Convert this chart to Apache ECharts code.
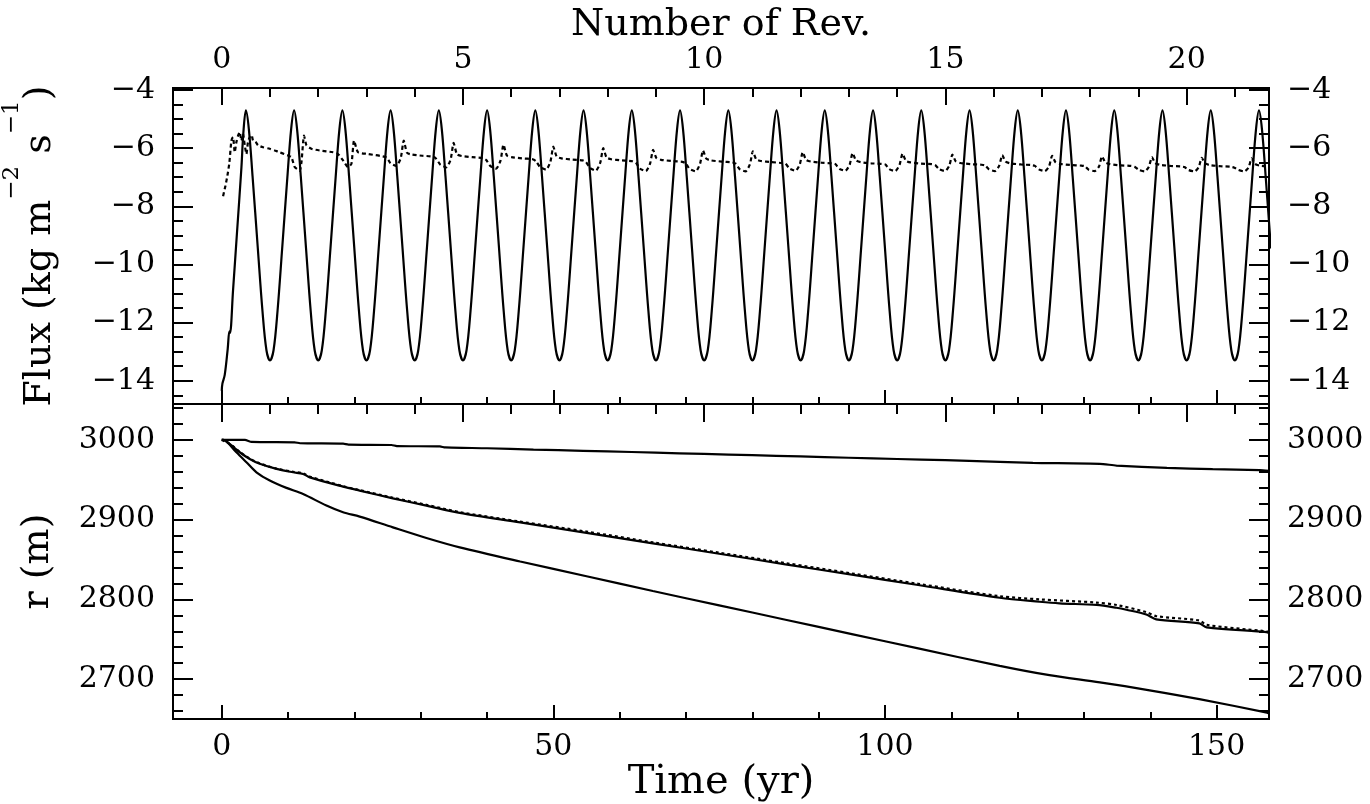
<!DOCTYPE html>
<html><head><meta charset="utf-8">
<script src="https://cdn.jsdelivr.net/npm/echarts@6/dist/echarts.min.js"></script>
<style>html,body{margin:0;padding:0;background:#fff}#c{width:1370px;height:804px}</style>
</head><body><div id="c"></div>
<script>
// ---------- tick values ----------
const timeMajor = [0, 50, 100, 150];
const timeMinor = [10, 20, 30, 40, 60, 70, 80, 90, 110, 120, 130, 140];
const revMajor = [0, 5, 10, 15, 20];
const revMinor = [1, 2, 3, 4, 6, 7, 8, 9, 11, 12, 13, 14, 16, 17, 18, 19, 21];
const fluxMajor = [-14, -12, -10, -8, -6, -4];
const fluxMinor = [-14.5, -13.5, -13, -12.5, -11.5, -11, -10.5, -9.5, -9, -8.5, -7.5, -7, -6.5, -5.5, -5, -4.5];
const rMajor = [2700, 2800, 2900, 3000];
const rMinor = [2660, 2680, 2720, 2740, 2760, 2780, 2820, 2840, 2860, 2880, 2920, 2940, 2960, 2980, 3020, 3040];

// ---------- data: [time (yr), value] ----------
const fluxSolid = [
 [0,-14.35],[0.1,-14.1],[0.45,-13.8],[0.9,-12.9],[1.15,-12.3],[1.25,-12.35],[1.7,-10.9],[2.3,-8.9],[2.97,-6.65],[3.25,-5.5],[3.64,-4.7],
 [4.09,-5.35],[4.64,-6.95],[5.44,-9.45],[6.14,-11.6],[6.74,-12.95],[7.27,-13.3],
 [7.81,-12.95],[8.41,-11.6],[9.11,-9.45],[9.91,-6.95],[10.46,-5.35],[10.91,-4.7],[11.36,-5.35],[11.91,-6.95],[12.71,-9.45],[13.41,-11.6],[14.01,-12.95],[14.55,-13.3],
 [15.09,-12.95],[15.69,-11.6],[16.39,-9.45],[17.19,-6.95],[17.74,-5.35],[18.19,-4.7],[18.64,-5.35],[19.19,-6.95],[19.99,-9.45],[20.69,-11.6],[21.29,-12.95],[21.82,-13.3],
 [22.36,-12.95],[22.96,-11.6],[23.66,-9.45],[24.46,-6.95],[25.01,-5.35],[25.46,-4.7],[25.91,-5.35],[26.46,-6.95],[27.26,-9.45],[27.96,-11.6],[28.56,-12.95],[29.10,-13.3],
 [29.63,-12.95],[30.23,-11.6],[30.93,-9.45],[31.73,-6.95],[32.28,-5.35],[32.73,-4.7],[33.18,-5.35],[33.73,-6.95],[34.53,-9.45],[35.23,-11.6],[35.83,-12.95],[36.37,-13.3],
 [36.91,-12.95],[37.51,-11.6],[38.21,-9.45],[39.01,-6.95],[39.56,-5.35],[40.01,-4.7],[40.46,-5.35],[41.01,-6.95],[41.81,-9.45],[42.51,-11.6],[43.11,-12.95],[43.64,-13.3],
 [44.18,-12.95],[44.78,-11.6],[45.48,-9.45],[46.28,-6.95],[46.83,-5.35],[47.28,-4.7],[47.73,-5.35],[48.28,-6.95],[49.08,-9.45],[49.78,-11.6],[50.38,-12.95],[50.92,-13.3],
 [51.45,-12.95],[52.05,-11.6],[52.75,-9.45],[53.55,-6.95],[54.10,-5.35],[54.55,-4.7],[55.00,-5.35],[55.55,-6.95],[56.35,-9.45],[57.05,-11.6],[57.65,-12.95],[58.19,-13.3],
 [58.73,-12.95],[59.33,-11.6],[60.03,-9.45],[60.83,-6.95],[61.38,-5.35],[61.83,-4.7],[62.28,-5.35],[62.83,-6.95],[63.63,-9.45],[64.33,-11.6],[64.93,-12.95],[65.47,-13.3],
 [66.00,-12.95],[66.60,-11.6],[67.30,-9.45],[68.10,-6.95],[68.65,-5.35],[69.10,-4.7],[69.55,-5.35],[70.10,-6.95],[70.90,-9.45],[71.60,-11.6],[72.20,-12.95],[72.74,-13.3],
 [73.28,-12.95],[73.88,-11.6],[74.58,-9.45],[75.38,-6.95],[75.93,-5.35],[76.38,-4.7],[76.83,-5.35],[77.38,-6.95],[78.18,-9.45],[78.88,-11.6],[79.48,-12.95],[80.01,-13.3],
 [80.55,-12.95],[81.15,-11.6],[81.85,-9.45],[82.65,-6.95],[83.20,-5.35],[83.65,-4.7],[84.10,-5.35],[84.65,-6.95],[85.45,-9.45],[86.15,-11.6],[86.75,-12.95],[87.29,-13.3],
 [87.82,-12.95],[88.42,-11.6],[89.12,-9.45],[89.92,-6.95],[90.47,-5.35],[90.92,-4.7],[91.37,-5.35],[91.92,-6.95],[92.72,-9.45],[93.42,-11.6],[94.02,-12.95],[94.56,-13.3],
 [95.10,-12.95],[95.70,-11.6],[96.40,-9.45],[97.20,-6.95],[97.75,-5.35],[98.20,-4.7],[98.65,-5.35],[99.20,-6.95],[100.00,-9.45],[100.70,-11.6],[101.30,-12.95],[101.84,-13.3],
 [102.37,-12.95],[102.97,-11.6],[103.67,-9.45],[104.47,-6.95],[105.02,-5.35],[105.47,-4.7],[105.92,-5.35],[106.47,-6.95],[107.27,-9.45],[107.97,-11.6],[108.57,-12.95],[109.11,-13.3],
 [109.65,-12.95],[110.25,-11.6],[110.95,-9.45],[111.75,-6.95],[112.30,-5.35],[112.75,-4.7],[113.20,-5.35],[113.75,-6.95],[114.55,-9.45],[115.25,-11.6],[115.85,-12.95],[116.38,-13.3],
 [116.92,-12.95],[117.52,-11.6],[118.22,-9.45],[119.02,-6.95],[119.57,-5.35],[120.02,-4.7],[120.47,-5.35],[121.02,-6.95],[121.82,-9.45],[122.52,-11.6],[123.12,-12.95],[123.66,-13.3],
 [124.19,-12.95],[124.79,-11.6],[125.49,-9.45],[126.29,-6.95],[126.84,-5.35],[127.29,-4.7],[127.74,-5.35],[128.29,-6.95],[129.09,-9.45],[129.79,-11.6],[130.39,-12.95],[130.93,-13.3],
 [131.47,-12.95],[132.07,-11.6],[132.77,-9.45],[133.57,-6.95],[134.12,-5.35],[134.57,-4.7],[135.02,-5.35],[135.57,-6.95],[136.37,-9.45],[137.07,-11.6],[137.67,-12.95],[138.21,-13.3],
 [138.74,-12.95],[139.34,-11.6],[140.04,-9.45],[140.84,-6.95],[141.39,-5.35],[141.84,-4.7],[142.29,-5.35],[142.84,-6.95],[143.64,-9.45],[144.34,-11.6],[144.94,-12.95],[145.48,-13.3],
 [146.02,-12.95],[146.62,-11.6],[147.32,-9.45],[148.12,-6.95],[148.67,-5.35],[149.12,-4.7],[149.57,-5.35],[150.12,-6.95],[150.92,-9.45],[151.62,-11.6],[152.22,-12.95],[152.75,-13.3],
 [153.29,-12.95],[153.89,-11.6],[154.59,-9.45],[155.39,-6.95],[155.94,-5.35],[156.39,-4.7],[156.84,-5.35],[157.39,-6.95],[158.19,-9.45]
];
const fluxDotted = [
 [0.2,-7.65],[0.55,-7.3],[0.85,-6.95],[1.15,-6.5],[1.45,-5.75],[1.7,-5.62],[1.96,-6.14],[2.2,-5.8],[2.46,-5.57],[2.7,-5.45],[2.97,-5.74],[3.2,-5.5],[3.47,-5.9],[3.72,-6.2],[3.95,-5.8],[4.22,-5.62],[4.5,-5.55],[4.72,-5.74],[5.1,-5.78],[5.47,-5.9],[6.23,-5.97],[7.24,-6.02],[8.0,-6.08],[8.74,-6.14],[9.4,-6.2],[10.0,-6.25],[10.5,-6.31],[11.0,-6.65],[11.4,-6.72],[11.76,-6.77],[12.02,-6.48],
 [12.41,-5.57],[12.77,-5.9],[13.52,-6.02],[14.77,-6.08],[16.78,-6.14],[17.53,-6.2],[18.29,-6.42],[19.04,-6.65],[19.55,-6.54],
 [19.95,-5.74],[20.55,-6.14],[22.06,-6.2],
 [24.84,-6.32],[25.44,-6.52],[26.34,-6.61],[26.99,-6.34],[27.44,-5.74],[27.94,-6.16],[28.64,-6.22],[30.24,-6.26],[31.84,-6.29],
 [32.36,-6.37],[32.96,-6.57],[33.86,-6.66],[34.51,-6.39],[34.96,-5.82],[35.46,-6.21],[36.16,-6.27],[37.76,-6.31],[39.36,-6.34],
 [39.88,-6.41],[40.48,-6.61],[41.38,-6.70],[42.03,-6.43],[42.48,-5.88],[42.98,-6.25],[43.68,-6.31],[45.28,-6.35],[46.88,-6.38],
 [47.40,-6.45],[48.00,-6.65],[48.90,-6.74],[49.55,-6.47],[50.00,-5.95],[50.50,-6.29],[51.20,-6.35],[52.80,-6.39],[54.40,-6.42],
 [54.92,-6.48],[55.52,-6.68],[56.42,-6.77],[57.07,-6.50],[57.52,-6.00],[58.02,-6.32],[58.72,-6.38],[60.32,-6.42],[61.92,-6.45],
 [62.44,-6.50],[63.04,-6.70],[63.94,-6.79],[64.59,-6.52],[65.04,-6.06],[65.54,-6.34],[66.24,-6.40],[67.84,-6.44],[69.44,-6.47],
 [69.96,-6.52],[70.56,-6.72],[71.46,-6.80],[72.11,-6.54],[72.56,-6.08],[73.06,-6.36],[73.76,-6.42],[75.36,-6.46],[76.96,-6.49],
 [77.48,-6.53],[78.08,-6.72],[78.98,-6.80],[79.63,-6.56],[80.08,-6.11],[80.58,-6.38],[81.28,-6.44],[82.88,-6.48],[84.48,-6.51],
 [85.00,-6.53],[85.60,-6.70],[86.50,-6.78],[87.15,-6.56],[87.60,-6.14],[88.10,-6.40],[88.80,-6.46],[90.40,-6.50],[92.00,-6.52],
 [92.52,-6.55],[93.12,-6.71],[94.02,-6.78],[94.67,-6.57],[95.12,-6.17],[95.62,-6.42],[96.32,-6.48],[97.92,-6.52],[99.52,-6.54],
 [100.04,-6.56],[100.64,-6.72],[101.54,-6.79],[102.19,-6.58],[102.64,-6.19],[103.14,-6.43],[103.84,-6.49],[105.44,-6.53],[107.04,-6.55],
 [107.56,-6.58],[108.16,-6.72],[109.06,-6.79],[109.71,-6.59],[110.16,-6.22],[110.66,-6.45],[111.36,-6.51],[112.96,-6.55],[114.56,-6.57],
 [115.08,-6.59],[115.68,-6.73],[116.58,-6.79],[117.23,-6.60],[117.68,-6.24],[118.18,-6.46],[118.88,-6.52],[120.48,-6.56],[122.08,-6.58],
 [122.60,-6.61],[123.20,-6.73],[124.10,-6.79],[124.75,-6.62],[125.20,-6.26],[125.70,-6.48],[126.40,-6.54],[128.00,-6.58],[129.60,-6.60],
 [130.12,-6.62],[130.72,-6.74],[131.62,-6.79],[132.27,-6.63],[132.72,-6.28],[133.22,-6.49],[133.92,-6.55],[135.52,-6.59],[137.12,-6.61],
 [137.64,-6.64],[138.24,-6.74],[139.14,-6.80],[139.79,-6.64],[140.24,-6.31],[140.74,-6.51],[141.44,-6.57],[143.04,-6.61],[144.64,-6.63],
 [145.16,-6.65],[145.76,-6.75],[146.66,-6.80],[147.31,-6.65],[147.76,-6.33],[148.26,-6.52],[148.96,-6.58],[150.56,-6.62],[152.16,-6.64],
 [152.68,-6.67],[153.28,-6.75],[154.18,-6.80],[154.83,-6.66],[155.28,-6.35],[155.78,-6.54],[156.48,-6.60],[157.90,-6.63]
];
const rTop = [
 [0,3000],[3.5,3000],[4.5,2997.5],[11,2997],[11.8,2995.8],[18.3,2995.2],[19.1,2994],[25.6,2993.6],[26.4,2992.3],[32.9,2991.8],[33.7,2990.5],
 [40,2989.5],[47,2987.8],[54.5,2986.3],[61.8,2984.8],[69,2983.2],[76.4,2981.6],[83.6,2980],[90.9,2978.4],[98.2,2976.8],[105.5,2975.3],
 [112.7,2973.8],[117.3,2972.5],[122.3,2971.2],[132.4,2970],[134.9,2967.8],[142.5,2964.8],[149.4,2963.3],[156.5,2962.2],[157.9,2961.3]
];
const rMid = [
 [0,3000],[0.2,3000],[1.46,2993],[2.71,2984.5],[4.22,2976],[5.73,2970],[8.25,2963.6],[10.75,2959.4],[12.26,2957.3],[13.27,2953],
 [18.29,2941.4],[20.8,2936.4],[25.8,2926.7],[30.86,2917.6],[35.88,2908.4],[45,2896.5],[55,2883.3],[65,2870.3],[75,2857.2],[85,2844],
 [95,2831],[105,2818],[117.3,2802],[123.3,2797],[126.3,2795],[131.9,2793],[134.9,2789.5],[136.4,2787],[139.4,2781],[140.9,2775],
 [147.4,2770],[148.5,2765],[157.5,2759],[157.9,2758]
];
const rMidDotted = [
 [0,3000],[1.46,2993.5],[2.71,2985],[4.22,2976.5],[5.73,2970.5],[8.25,2964],[10.75,2960],[12.26,2958],[13.27,2954],[18.29,2942],
 [20.8,2937],[25.8,2927.5],[30.86,2918.5],[35.88,2909.5],[45,2897.5],[55,2885],[65,2871.5],[75,2858.5],[85,2845.5],[95,2832.5],
 [105,2819.5],[117.3,2804],[123.3,2800],[131.9,2796],[134.9,2793],[139.4,2784],[140.9,2779],[147.4,2773.5],[148.5,2768],[157.5,2760],[157.9,2759.5]
];
const rLow = [
 [0,3000],[0.2,3000],[2.2,2984.5],[3.72,2972],[5.23,2959.4],[7.24,2949],[9.75,2939.8],[12.26,2932.2],[15.78,2917.6],[18.29,2909.2],
 [20.8,2903.8],[25.8,2890.3],[30.86,2877],[35.88,2865.2],[45,2847.5],[55,2829],[65,2810.5],[75,2792.5],[85,2774.5],[95,2756.5],[105,2738.5],
 [117.3,2716.7],[124.8,2705],[132.4,2696],[139.9,2686],[147.4,2674.9],[157.6,2658],[157.9,2657]
];

// ---------- layout ----------
const T_MIN = -7.35, T_MAX = 157.9;
const YR_PER_REV = 7.274;
const FONT = 'DejaVu Serif';
const BLACK = '#000';
const fmt = v => String(v).replace('-', '\u2212');

function tickAxis(kind, gi, pos, min, max, vals, len, showLabel, extra) {
  const ax = {
    type: 'value', gridIndex: gi, position: pos, min: min, max: max,
    axisLine: { show: false, onZero: false },
    splitLine: { show: false },
    axisTick: { show: true, inside: true, length: len, customValues: vals, lineStyle: { color: BLACK, width: 2 } },
    axisLabel: { show: showLabel, customValues: vals, fontFamily: FONT, fontSize: 30, color: BLACK,
                 margin: (kind === 'x' ? 13 : 18), formatter: fmt }
  };
  return Object.assign(ax, extra || {});
}

const revMin = T_MIN / YR_PER_REV, revMax = T_MAX / YR_PER_REV;
const titleStyle = { fontFamily: FONT, fontSize: 38, color: BLACK };

const xAxes = [
  // upper panel
  tickAxis('x', 0, 'bottom', T_MIN, T_MAX, timeMajor, 14, false),
  tickAxis('x', 0, 'bottom', T_MIN, T_MAX, timeMinor, 7, false),
  tickAxis('x', 0, 'top', revMin, revMax, revMajor, 17, true,
    { name: 'Number of Rev.', nameLocation: 'middle', nameGap: 38, nameTextStyle: titleStyle }),
  tickAxis('x', 0, 'top', revMin, revMax, revMinor, 9, false),
  // lower panel
  tickAxis('x', 1, 'bottom', T_MIN, T_MAX, timeMajor, 14, true,
    { name: 'Time (yr)', nameLocation: 'middle', nameGap: 43,
      nameTextStyle: { fontFamily: FONT, fontSize: 40, color: BLACK } }),
  tickAxis('x', 1, 'bottom', T_MIN, T_MAX, timeMinor, 7, false),
  tickAxis('x', 1, 'top', revMin, revMax, revMajor, 18, false),
  tickAxis('x', 1, 'top', revMin, revMax, revMinor, 10, false)
];

const FLUX_MIN = -14.8, FLUX_MAX = -3.93;
const R_MIN = 2650, R_MAX = 3045;
const fluxName = '{n|Flux (kg m}{s|\u22122}{n| s}{s|\u22121}{n|)}';
const richName = {
  fontFamily: FONT, fontSize: 38, color: BLACK,
  rich: {
    n: { fontFamily: FONT, fontSize: 38, lineHeight: 38, verticalAlign: 'bottom', color: BLACK },
    s: { fontFamily: FONT, fontSize: 23, lineHeight: 58, verticalAlign: 'top', color: BLACK }
  }
};
const yAxes = [
  tickAxis('y', 0, 'left', FLUX_MIN, FLUX_MAX, fluxMajor, 20, true,
    { name: fluxName, nameLocation: 'middle', nameGap: 114, nameTextStyle: richName }),
  tickAxis('y', 0, 'left', FLUX_MIN, FLUX_MAX, fluxMinor, 10, false),
  tickAxis('y', 0, 'right', FLUX_MIN, FLUX_MAX, fluxMajor, 20, true),
  tickAxis('y', 0, 'right', FLUX_MIN, FLUX_MAX, fluxMinor, 10, false),
  tickAxis('y', 1, 'left', R_MIN, R_MAX, rMajor, 20, true,
    { name: 'r (m)', nameLocation: 'middle', nameGap: 116, nameTextStyle: titleStyle }),
  tickAxis('y', 1, 'left', R_MIN, R_MAX, rMinor, 10, false),
  tickAxis('y', 1, 'right', R_MIN, R_MAX, rMajor, 20, true),
  tickAxis('y', 1, 'right', R_MIN, R_MAX, rMinor, 10, false)
];

function line(data, xi, yi, dashed, smooth) {
  return {
    type: 'line', data: data, xAxisIndex: xi, yAxisIndex: yi,
    showSymbol: false, symbol: 'none', smooth: smooth, clip: true, silent: true,
    lineStyle: { color: BLACK, width: 2.2, type: dashed ? dashed : 'solid' }
  };
}

const gridBase = { left: 173, width: 1096, show: true, borderColor: BLACK, borderWidth: 2,
                   backgroundColor: 'transparent', containLabel: false, outerBoundsMode: 'none' };
const chart = echarts.init(document.getElementById('c'), null, { renderer: 'canvas' });
chart.setOption({
  animation: false,
  backgroundColor: '#fff',
  grid: [
    Object.assign({ top: 88, height: 316 }, gridBase),
    Object.assign({ top: 404, height: 315 }, gridBase)
  ],
  xAxis: xAxes,
  yAxis: yAxes,
  series: [
    line(fluxSolid, 0, 0, null, 0.35),
    line(fluxDotted, 0, 0, [4, 3], 0.2),
    line(rTop, 4, 4, null, 0.2),
    line(rMid, 4, 4, null, 0.3),
    line(rMidDotted, 4, 4, [3, 3], 0.3),
    line(rLow, 4, 4, null, 0.3)
  ]
});
</script>
</body></html>
